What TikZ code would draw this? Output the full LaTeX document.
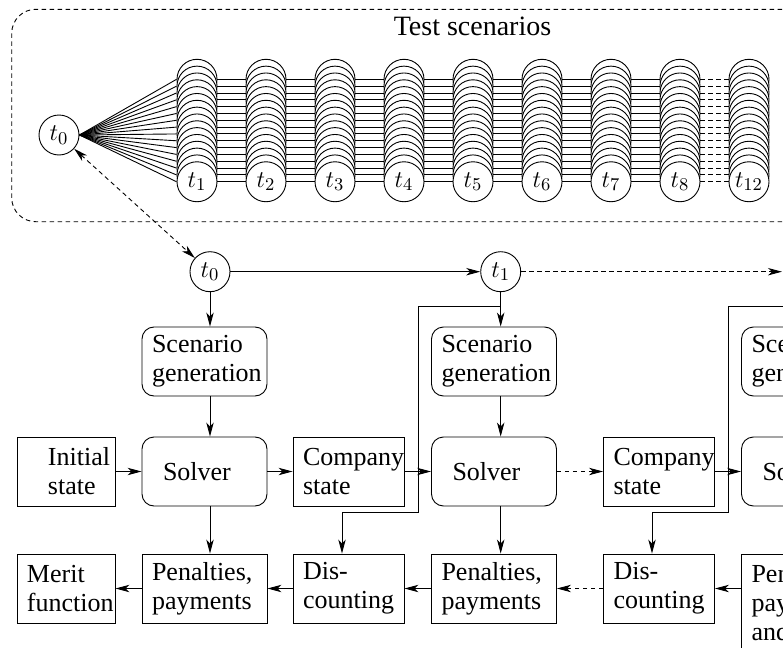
\documentclass[tikz,border=0pt]{standalone}
\usepackage{fontspec}
\setmainfont{Liberation Serif}
\usetikzlibrary{arrows.meta}
\begin{document}
\begin{tikzpicture}[x=0.5pt,y=-0.5pt, line width=0.45pt,
  every node/.style={font=\fontsize{13}{14.5}\selectfont},
  arr/.style={-{Stealth[length=7pt,width=3.7pt,inset=2pt]}},
  dsh/.style={dash pattern=on 2.25pt off 1.75pt},
  darr/.style={arr, dsh},
  tc/.style={circle, draw, fill=white, minimum size=20pt, inner sep=0pt},
  lsk/.style={execute at begin node={\leftskip=#1\relax}},
  bx/.style={draw, minimum width=#1, text width=#1, minimum height=34.5pt,
    inner xsep=0pt, inner ysep=2pt, align=left, lsk=5pt},
  rbx/.style={bx=#1, rounded corners=6pt},
]
\useasboundingbox (0,0) rectangle (783,648);
\clip (0,0) rectangle (783,648);

% ---- Test scenarios panel ----
\draw[dsh, rounded corners=12pt] (11.7,9.3) rectangle (900,221.7);
\node[font=\fontsize{14}{16}\selectfont, anchor=base] (title) at (472.5,35) {Test scenarios};
\node[tc] (T0) at (59,135) {$t_0$};

\foreach \i/\x/\lab in {1/197/t_1, 2/266/t_2, 3/335/t_3, 4/404/t_4, 5/473/t_5, 6/542/t_6, 7/611/t_7, 8/680/t_8, 9/749/t_{12}} {
  \foreach \k in {0,...,15} {
    \node[tc] (c-\i-\k) at (\x, 79.3+6.83*\k) {};
  }
  \node (lab-\i) at (c-\i-15) {$\lab$};
}
\foreach \k in {0,...,15} {
  \draw (T0.east) -- (c-1-\k.west);
  \draw[dsh] (c-8-\k.east) -- (c-9-\k.west);
}
\foreach \i/\j in {1/2,2/3,3/4,4/5,5/6,6/7,7/8} {
  \foreach \k in {0,...,15} {
    \draw (c-\i-\k.east) -- (c-\j-\k.west);
  }
}

% ---- time line ----
\node[tc] (t0) at (210,271.7) {$t_0$};
\node[tc] (t1) at (500.7,271.7) {$t_1$};
\coordinate (t2end) at (782,271.7);
\draw[dsh, {Stealth[length=7pt,width=3.7pt,inset=2pt]}-{Stealth[length=7pt,width=3.7pt,inset=2pt]}] (T0) -- (t0);
\draw[arr] (t0) -- (t1);
\draw[darr] (t1) -- (t2end);

% ---- boxes ----
\node[rbx=62.5pt] (SG1) at (204.5,361.5) {Scenario\\generation};
\node[rbx=62.5pt] (SG2) at (494,361.5) {Scenario\\generation};
\node[rbx=62.5pt] (SG3) at (804,361.5) {Scenario\\generation};

\node[bx=49pt, lsk=15.5pt] (Init) at (66,471.5) {Initial\\state};
\node[rbx=62.5pt, lsk=10.5pt] (S1) at (204.5,471.5) {Solver};
\node[bx=55.5pt] (C1) at (348.5,471.5) {Company\\state};
\node[rbx=62.5pt, lsk=10.5pt] (S2) at (494,471.5) {Solver};
\node[bx=55.5pt] (C2) at (659,471.5) {Company\\state};
\node[rbx=62.5pt, lsk=10.5pt] (S3) at (804,471.5) {Solver};

\node[bx=49pt] (Merit) at (66,588.5) {Merit\\function};
\node[bx=62.5pt] (P1) at (204.5,588.5) {Penalties,\\payments};
\node[bx=55.5pt] (D1) at (348.5,588.5) {Dis-\\counting};
\node[bx=62.5pt] (P2) at (494,588.5) {Penalties,\\payments};
\node[bx=55.5pt] (D2) at (659,588.5) {Dis-\\counting};
\node[bx=62.5pt, minimum height=49pt] (P3) at (804,603) {Penalties,\\payments\\and};

% ---- vertical arrows ----
\draw[arr] (t0) -- (t0 |- SG1.north);
\draw[arr] (SG1.south -| t0) -- (S1.north -| t0);
\draw[arr] (S1.south -| t0) -- (P1.north -| t0);
\draw[arr] (t1) -- (t1 |- SG2.north);
\draw[arr] (SG2.south -| t1) -- (S2.north -| t1);
\draw[arr] (S2.south -| t1) -- (P2.north -| t1);

% ---- forks ----
\coordinate (f1) at (500.7,306);
\coordinate (k1) at (342,512);
\draw[arr] (f1) -- (418,306) -- (418,512) -- (k1) -- (D1.north -| k1);
\coordinate (f2) at (800,306);
\coordinate (k2) at (652,512);
\draw[arr] (f2) -- (728,306) -- (728,512) -- (k2) -- (D2.north -| k2);

% ---- horizontal arrows ----
\draw[arr] (Init) -- (S1);
\draw[arr] (S1) -- (C1);
\draw[arr] (C1) -- (S2);
\draw[darr] (S2) -- (C2);
\draw[arr] (C2) -- (S3);
\draw[arr] (P1) -- (Merit);
\draw[arr] (D1) -- (P1);
\draw[arr] (P2) -- (D1);
\draw[darr] (D2) -- (P2);
\draw[arr] (P3.west |- D2) -- (D2);
\end{tikzpicture}
\end{document}
